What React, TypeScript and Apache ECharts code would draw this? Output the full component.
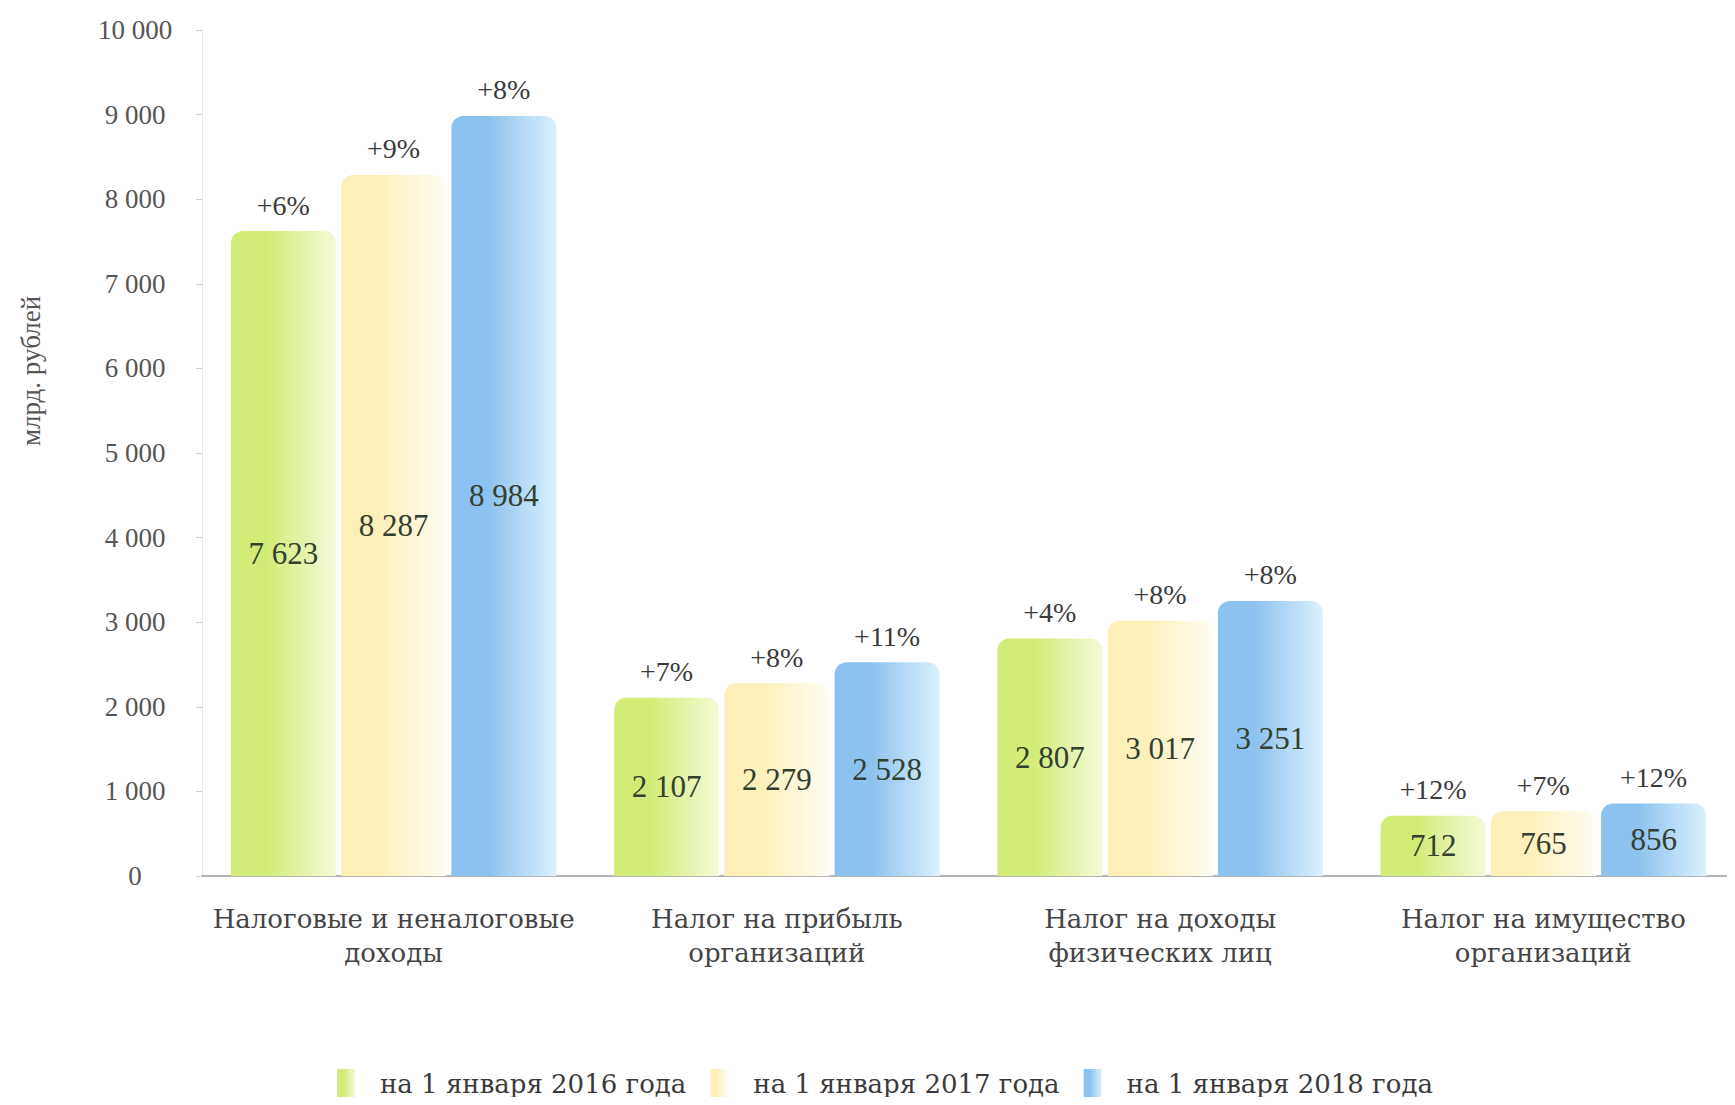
import React, { useEffect, useRef } from "react";
import * as echarts from "echarts";

const categories = [
  "Налоговые и неналоговые\nдоходы",
  "Налог на прибыль\nорганизаций",
  "Налог на доходы\nфизических лиц",
  "Налог на имущество\nорганизаций",
];
const seriesNames = ["на 1 января 2016 года", "на 1 января 2017 года", "на 1 января 2018 года"];
const values2016 = [7623, 2107, 2807, 712];
const values2017 = [8287, 2279, 3017, 765];
const values2018 = [8984, 2528, 3251, 856];
const growth2016 = ["+6%", "+7%", "+4%", "+12%"];
const growth2017 = ["+9%", "+8%", "+8%", "+7%"];
const growth2018 = ["+8%", "+11%", "+8%", "+12%"];
const yAxisTitle = "млрд. рублей";

const FONT = "Liberation Serif";
const WIDE = "DejaVu Serif";

const fmt = (v: number) => {
  const s = String(Math.round(v));
  return s.replace(/\B(?=(\d{3})+(?!\d))/g, " ");
};

const grad = (a: string, b: string) =>
  new echarts.graphic.LinearGradient(0, 0, 1, 0, [
    { offset: 0, color: a },
    { offset: 0.35, color: a },
    { offset: 1, color: b },
  ]);

export default function App() {
  const ref = useRef<HTMLDivElement>(null);
  useEffect(() => {
    if (!ref.current) return;
    const chart = echarts.init(ref.current, undefined, { renderer: "svg" });
    const colors = [
      grad("#d3ec78", "#f3fad8"),
      grad("#fcf0b8", "#fffdf4"),
      grad("#8cc2ef", "#dbf1fc"),
    ];
    const vals = [values2016, values2017, values2018];
    const pcts = [growth2016, growth2017, growth2018];
    const series: any[] = [];
    for (let i = 0; i < 3; i++) {
      series.push({
        name: seriesNames[i],
        type: "bar",
        stack: "s" + i,
        barWidth: 105,
        barGap: "5%",
        data: vals[i],
        itemStyle: { color: colors[i], borderRadius: [12, 12, 0, 0] },
        label: {
          show: true,
          position: "inside",
          formatter: (p: any) => fmt(p.value),
          fontFamily: FONT,
          fontSize: 31,
          color: "#33402f",
        },
      });
      series.push({
        name: "pct" + i,
        type: "bar",
        stack: "s" + i,
        barWidth: 105,
        barGap: "5%",
        data: vals[i].map(() => 0),
        itemStyle: { color: "transparent" },
        label: {
          show: true,
          position: "top",
          distance: 12,
          formatter: (p: any) => pcts[i][p.dataIndex],
          fontFamily: FONT,
          fontSize: 28,
          color: "#3a3a3a",
        },
      });
    }
    chart.setOption({
      animation: false,
      backgroundColor: "#ffffff",
      grid: { left: 202, right: -10, top: 30, bottom: 229 },
      graphic: [
        {
          type: "text",
          x: 31,
          y: 371,
          rotation: Math.PI / 2,
          style: {
            text: yAxisTitle,
            fontFamily: FONT,
            fontSize: 27,
            fill: "#555555",
            align: "center",
            verticalAlign: "middle",
          },
        },
      ],
      legend: {
        data: seriesNames,
        top: 1064,
        left: 332,
        icon: "rect",
        itemWidth: 18,
        itemHeight: 30,
        itemGap: 24,
        textStyle: {
          fontFamily: WIDE,
          fontSize: 26,
          color: "#3a3a3a",
          padding: [0, 0, 0, 20],
        },
      },
      xAxis: {
        type: "category",
        data: categories,
        axisLine: { lineStyle: { color: "#9a9a9a", width: 1.5 } },
        axisTick: { alignWithLabel: true, length: 8, lineStyle: { color: "#9a9a9a" } },
        axisLabel: {
          interval: 0,
          fontFamily: WIDE,
          fontSize: 26,
          lineHeight: 34,
          color: "#444444",
          margin: 26,
        },
      },
      yAxis: {
        type: "value",
        min: 0,
        max: 10000,
        interval: 1000,
        axisLine: { show: true, lineStyle: { color: "#e6e6e6" } },
        axisTick: { show: true, length: 6, lineStyle: { color: "#cccccc" } },
        splitLine: { show: false },
        axisLabel: {
          formatter: (v: number) => fmt(v),
          fontFamily: FONT,
          fontSize: 27,
          color: "#555555",
          align: "center",
          margin: 67,
        },
      },
      series,
    });
    return () => chart.dispose();
  }, []);
  return <div ref={ref} style={{ width: 1735, height: 1105, margin: -8 }} />;
}
